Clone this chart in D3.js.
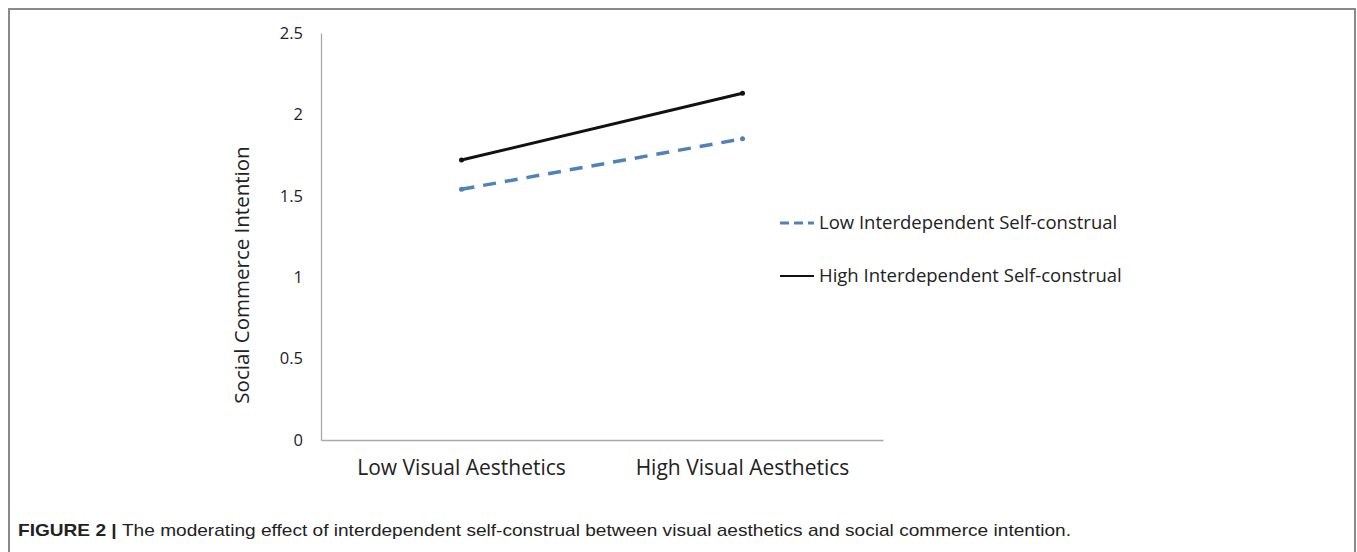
<!DOCTYPE html>
<html>
<head>
<meta charset="utf-8">
<script src="https://cdn.jsdelivr.net/npm/d3@7"></script>
<style>
  body { margin: 0; background: #fff; }
  svg { display: block; }
</style>
</head>
<body>
<svg id="chart" width="1357" height="552"></svg>
<script>
// values
const categories = ["Low Visual Aesthetics", "High Visual Aesthetics"];
const seriesNames = ["Low Interdependent Self-construal", "High Interdependent Self-construal"];
const lowInterdependent = [1.54, 1.85];
const highInterdependent = [1.72, 2.13];
const yTicks = [0, 0.5, 1, 1.5, 2, 2.5];

const svg = d3.select("#chart");

// frame around the figure
svg.append("path")
  .attr("d", "M9,560 V9 H1355 V560")
  .attr("fill", "none")
  .attr("stroke", "#8a8a8a")
  .attr("stroke-width", 2);

const x = d3.scaleBand().domain(categories).range([321, 883]);
const y = d3.scaleLinear().domain([0, 2.5]).range([440, 33]);

const labelFont = "'Open Sans', 'Noto Sans', sans-serif";

// y axis: line and labels only, no tick marks
const yAxis = svg.append("g")
  .attr("transform", "translate(321,0)")
  .call(d3.axisLeft(y).tickValues(yTicks).tickSize(0).tickPadding(18).tickFormat(d3.format("")));
yAxis.select(".domain").attr("stroke", "#a8a8a8").attr("stroke-width", 1.3);
yAxis.selectAll("text")
  .attr("font-family", labelFont)
  .attr("font-size", 16.5)
  .attr("fill", "#222");

// x axis
const xAxis = svg.append("g")
  .attr("transform", "translate(0,440)")
  .call(d3.axisBottom(x).tickSize(0).tickPadding(20));
xAxis.select(".domain").attr("stroke", "#a8a8a8").attr("stroke-width", 1.3);
xAxis.selectAll("text")
  .attr("font-family", labelFont)
  .attr("font-size", 21)
  .attr("fill", "#222");

// y axis title
svg.append("text")
  .attr("transform", "translate(249,275) rotate(-90)")
  .attr("text-anchor", "middle")
  .attr("font-family", labelFont)
  .attr("font-size", 20.5)
  .attr("fill", "#222")
  .text("Social Commerce Intention");

const cx = d => x(d) + x.bandwidth() / 2;
const line = d3.line().x((d, i) => cx(categories[i])).y(d => y(d));

const series = [
  { name: seriesNames[0], values: lowInterdependent, color: "#4f81bd", width: 3.5, dash: "13,9" },
  { name: seriesNames[1], values: highInterdependent, color: "#111", width: 3, dash: null }
];

series.forEach(s => {
  svg.append("path")
    .datum(s.values)
    .attr("d", line)
    .attr("fill", "none")
    .attr("stroke", s.color)
    .attr("stroke-width", s.width)
    .attr("stroke-dasharray", s.dash);
  svg.selectAll(null)
    .data(s.values)
    .enter().append("circle")
    .attr("cx", (d, i) => cx(categories[i]))
    .attr("cy", d => y(d))
    .attr("r", 2.5)
    .attr("fill", s.color);
});

// legend
const legend = svg.append("g");
const legendY = d3.scalePoint().domain(seriesNames).range([223, 276]);
series.forEach(s => {
  const ly = legendY(s.name);
  legend.append("line")
    .attr("x1", 780).attr("x2", 814)
    .attr("y1", ly).attr("y2", ly)
    .attr("stroke", s.color)
    .attr("stroke-width", s === series[0] ? 3 : 2)
    .attr("stroke-dasharray", s === series[0] ? "9,5" : null);
  legend.append("text")
    .attr("x", 819)
    .attr("y", ly)
    .attr("dy", "0.35em")
    .attr("font-family", labelFont)
    .attr("font-size", 18.5)
    .attr("fill", "#222")
    .text(s.name);
});

// caption
const cap = svg.append("text")
  .attr("x", 18)
  .attr("y", 536)
  .attr("font-family", "'Liberation Sans', Arial, sans-serif")
  .attr("font-size", 17)
  .attr("fill", "#222")
  .attr("textLength", 1053)
  .attr("lengthAdjust", "spacingAndGlyphs");
cap.append("tspan").attr("font-weight", "bold").text("FIGURE 2 | ");
cap.append("tspan").text("The moderating effect of interdependent self-construal between visual aesthetics and social commerce intention.");
</script>
</body>
</html>
